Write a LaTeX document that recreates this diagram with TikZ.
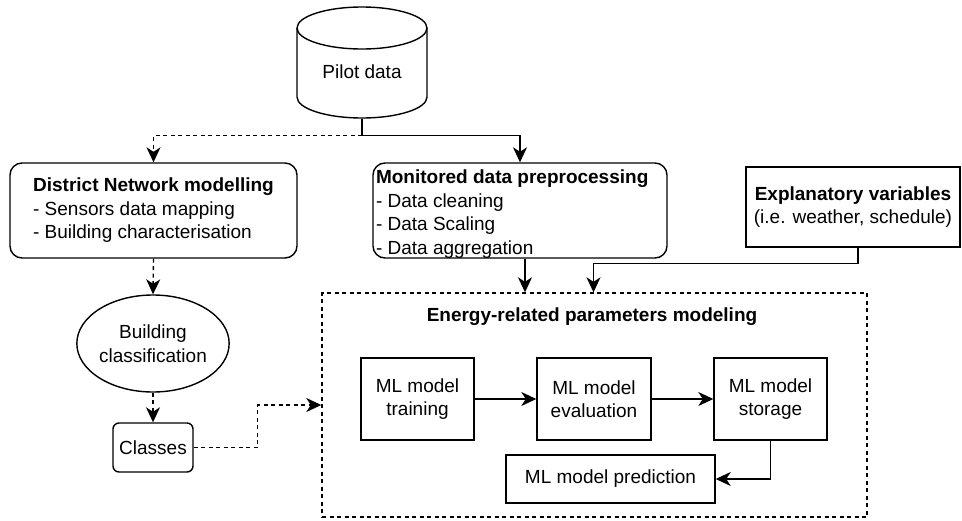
\documentclass[tikz,border=0pt]{standalone}
\usepackage{fontspec}
\setmainfont{Liberation Sans}
\usetikzlibrary{arrows.meta,shapes.geometric,calc}
\begin{document}
\begin{tikzpicture}[x=1pt,y=-1pt,
  line width=1.4pt,
  every node/.style={font=\fontsize{19}{23.5}\selectfont, inner sep=0pt},
  arr/.style={-{Stealth[length=15pt,width=14pt,inset=4.5pt]}},
  dsh/.style={dash pattern=on 4pt off 3.5pt},
  rbox/.style={draw, rounded corners=12pt},
  sbox/.style={draw, rectangle, align=center}
]
\useasboundingbox (0,0) rectangle (962,520);

% database cylinder
\draw (297,28) -- (297,97) arc (180:0:65 and 21) -- (427,28);
\draw (362,28) ellipse [x radius=65, y radius=21];
\node[minimum width=130, minimum height=111] (pilot) at (362,62.5) {};
\node (pilottxt) at (362,72) {Pilot data};

% upper row
\node[rbox, minimum width=287, minimum height=95, align=left] (dist) at (153.5,210.5)
  {\textbf{District Network modelling}\\- Sensors data mapping\\- Building characterisation};
\node[rbox, minimum width=294, minimum height=95] (mon) at (520,210.5) {};
\node[anchor=north west, align=left] (montxt) at ($(mon.north west)+(3,7)$)
  {\textbf{Monitored data preprocessing}\\- Data cleaning\\- Data Scaling\\- Data aggregation};
\node[sbox, minimum width=214, minimum height=80] (expl) at (853,207)
  {\textbf{Explanatory variables}\\(i.e. weather, schedule)};

% classification branch
\node[draw, ellipse, minimum width=147, minimum height=97, align=center] (bcls) at (153,343.5)
  {Building\\classification};
\node[draw, rounded corners=6pt, minimum width=80, minimum height=49] (cls) at (153,447.5) {Classes};

% modelling container
\node[draw, dsh, minimum width=545, minimum height=224] (ctr) at (594.5,405) {};
\node (ttl) at (592,317) {\textbf{Energy-related parameters modeling}};
\node[sbox, minimum width=113, minimum height=82] (train) at (417.5,399) {ML model\\training};
\node[sbox, minimum width=114, minimum height=82] (eval) at (594,399) {ML model\\evaluation};
\node[sbox, minimum width=113, minimum height=82] (stor) at (770.5,399) {ML model\\storage};
\node[sbox, minimum width=209, minimum height=48] (pred) at (610.5,479) {ML model prediction};

% connectors
\coordinate (split) at ($(pilot.south)+(0,17)$);
\coordinate (monout) at ($(mon.south)+(5,0)$);
\coordinate (ctrin) at ($(ctr.north)+(-1,0)$);
\draw (pilot.south) -- (split);
\draw[arr, dsh] (split) -| (dist.north);
\draw[arr] (split) -| (mon.north);
\draw[arr, dsh] (dist.south) -- (bcls.north);
\draw[arr, dsh] (bcls.south) -- (cls.north);
\draw[arr, dsh] (cls.east) -- ++(64,0) |- (ctr.west);
\draw[arr] (monout) -- (monout |- ctr.north);
\draw[arr] ($(expl.south)+(5,0)$) -- ++(0,16) -| (ctrin);
\draw[arr] (train) -- (eval);
\draw[arr] (eval) -- (stor);
\draw[arr] (stor.south) |- (pred.east);
\end{tikzpicture}
\end{document}
